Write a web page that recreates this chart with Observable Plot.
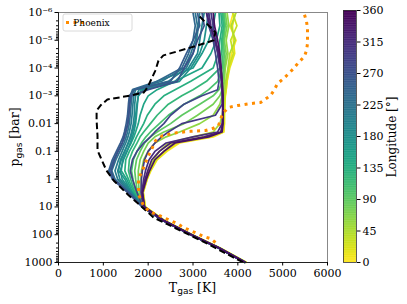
<!DOCTYPE html>
<html><head><meta charset="utf-8">
<script src="https://cdn.jsdelivr.net/npm/d3@7"></script>
<script src="https://cdn.jsdelivr.net/npm/@observablehq/plot@0.6"></script>
<style>
body{margin:0;background:#fff;}
#wrap{position:relative;width:407px;height:304px;}
#wrap svg{position:absolute;top:0;}
</style></head><body><div id="wrap"></div>
<script>
// pressure levels (bar) shared by the colored profiles
const pressureLevels = [1e-6, 3e-6, 1e-5, 3e-5, 1e-4, 3e-4, 6e-4, 1e-3, 2e-3, 5e-3, 0.01, 0.02, 0.03, 0.05, 0.1, 0.2, 0.5, 1, 3, 10, 30, 100, 300, 1000];
const longitudes = [0, 15, 30, 45, 60, 75, 90, 105, 120, 135, 150, 165, 180, 195, 210, 225, 240, 255, 270, 285, 300, 315, 330, 345];
// gas temperature (K) at each pressure level, one array per longitude
const t000 = [3900, 3820, 3960, 3860, 3800, 3760, 3740, 3720, 3710, 3700, 3700, 3690, 3450, 2700, 2420, 2200, 2060, 1980, 1890, 1940, 2360, 2990, 3610, 4200];
const t015 = [3950, 3880, 3900, 3930, 3820, 3760, 3740, 3720, 3710, 3700, 3700, 3680, 3400, 2650, 2400, 2190, 2050, 1975, 1890, 1935, 2355, 2985, 3605, 4195];
const t030 = [3880, 3980, 3840, 3900, 3790, 3750, 3730, 3710, 3700, 3690, 3680, 3620, 3250, 2550, 2350, 2170, 2040, 1970, 1880, 1930, 2350, 2980, 3600, 4190];
const t045 = [3960, 3850, 3940, 3820, 3780, 3730, 3710, 3690, 3680, 3650, 3600, 3450, 3000, 2450, 2250, 2120, 2000, 1950, 1870, 1925, 2345, 2975, 3595, 4185];
const t060 = [3760, 3800, 3740, 3780, 3720, 3700, 3680, 3650, 3600, 3450, 3150, 2700, 2400, 2150, 2000, 1900, 1850, 1840, 1850, 1920, 2340, 2970, 3590, 4180];
const t075 = [3720, 3760, 3700, 3740, 3700, 3680, 3650, 3600, 3450, 3100, 2800, 2350, 2150, 2000, 1900, 1820, 1780, 1780, 1800, 1915, 2335, 2965, 3585, 4175];
const t090 = [3700, 3720, 3680, 3700, 3680, 3650, 3580, 3450, 3150, 2750, 2500, 2200, 2050, 1920, 1820, 1740, 1700, 1720, 1760, 1910, 2330, 2960, 3580, 4170];
const t105 = [3680, 3700, 3660, 3670, 3650, 3550, 3350, 3150, 2800, 2450, 2250, 2050, 1950, 1850, 1750, 1670, 1630, 1660, 1720, 1900, 2330, 2960, 3580, 4170];
const t120 = [3650, 3680, 3640, 3630, 3600, 3300, 3000, 2750, 2450, 2200, 2050, 1900, 1820, 1750, 1650, 1580, 1560, 1610, 1700, 1895, 2330, 2960, 3580, 4170];
const t135 = [3620, 3650, 3600, 3560, 3450, 2950, 2600, 2350, 2150, 1980, 1900, 1800, 1740, 1680, 1580, 1500, 1480, 1560, 1680, 1890, 2325, 2955, 3575, 4165];
const t150 = [3580, 3600, 3520, 3400, 3200, 2600, 2200, 2000, 1900, 1820, 1780, 1720, 1680, 1620, 1520, 1430, 1400, 1520, 1650, 1885, 2325, 2955, 3575, 4165];
const t165 = [3500, 3450, 3350, 3200, 3000, 2200, 1850, 1780, 1750, 1720, 1700, 1650, 1620, 1560, 1470, 1380, 1340, 1480, 1620, 1880, 2325, 2955, 3575, 4165];
const t180 = [3350, 3300, 3250, 3150, 2950, 2700, 1900, 1780, 1760, 1740, 1720, 1680, 1650, 1600, 1530, 1450, 1380, 1420, 1640, 1880, 2325, 2955, 3575, 4165];
const t195 = [3250, 3200, 3150, 3100, 2900, 2600, 1800, 1720, 1700, 1690, 1670, 1630, 1600, 1550, 1480, 1400, 1320, 1370, 1620, 1878, 2322, 2952, 3572, 4162];
const t210 = [3150, 3120, 3080, 3000, 2850, 2450, 1720, 1680, 1660, 1640, 1620, 1580, 1550, 1500, 1420, 1340, 1260, 1320, 1600, 1876, 2320, 2950, 3570, 4160];
const t225 = [3050, 3100, 3050, 2950, 2800, 2300, 1680, 1640, 1620, 1600, 1580, 1540, 1510, 1460, 1370, 1280, 1190, 1260, 1570, 1874, 2320, 2950, 3570, 4160];
const t240 = [3000, 3050, 3000, 2900, 2750, 2200, 1650, 1600, 1580, 1560, 1540, 1500, 1470, 1420, 1320, 1230, 1140, 1220, 1550, 1872, 2318, 2948, 3568, 4158];
const t255 = [3100, 3150, 3000, 2850, 2700, 2500, 1700, 1580, 1560, 1540, 1510, 1470, 1440, 1380, 1290, 1200, 1120, 1200, 1540, 1870, 2318, 2948, 3568, 4158];
const t270 = [3200, 3250, 3100, 3000, 2800, 2650, 2000, 1620, 1590, 1570, 1550, 1500, 1470, 1420, 1330, 1250, 1170, 1230, 1560, 1872, 2320, 2950, 3570, 4160];
const t285 = [3300, 3350, 3450, 3500, 3550, 3580, 3550, 3200, 2800, 2500, 2350, 2150, 2050, 1900, 1750, 1650, 1600, 1650, 1750, 1878, 2325, 2955, 3575, 4165];
const t300 = [3400, 3450, 3500, 3550, 3600, 3630, 3640, 3650, 3650, 3500, 2750, 2450, 2300, 2150, 2000, 1920, 1870, 1850, 1840, 1890, 2330, 2960, 3580, 4170];
const t315 = [3350, 3400, 3480, 3560, 3610, 3640, 3650, 3660, 3660, 3660, 3650, 3550, 3000, 2400, 2150, 2020, 1940, 1900, 1860, 1910, 2335, 2965, 3585, 4170];
const t330 = [3300, 3380, 3500, 3580, 3620, 3650, 3660, 3665, 3670, 3670, 3660, 3620, 3250, 2500, 2250, 2080, 1990, 1930, 1870, 1915, 2335, 2965, 3585, 4172];
const t345 = [3450, 3480, 3550, 3600, 3630, 3650, 3660, 3670, 3670, 3670, 3670, 3650, 3350, 2600, 2350, 2150, 2030, 1960, 1875, 1918, 2338, 2968, 3588, 4175];
const profileTemps = [t000, t015, t030, t045, t060, t075, t090, t105, t120, t135, t150, t165, t180, t195, t210, t225, t240, t255, t270, t285, t300, t315, t330, t345];

// black dashed reference profile
const refP = [1.4e-6, 5.2e-6, 1.0e-5, 1.55e-5, 3.5e-5, 5.4e-5, 1.23e-4, 5.0e-4, 7.6e-4, 9.8e-4, 1.35e-3, 2.2e-3, 3.4e-3, 7.8e-3, 0.027, 0.093, 0.166, 0.49, 1.12, 2.24, 3.9, 7.9, 24, 71, 209, 660, 1000];
const refT = [3150, 3500, 3460, 3100, 2340, 2230, 2160, 1985, 1900, 1610, 1090, 940, 850, 850, 870, 870, 940, 1070, 1230, 1420, 1570, 1790, 2120, 2720, 3320, 3900, 4130];

// Phoenix profile (orange dotted)
const phoenixP = [1.2e-6, 2.1e-6, 3.8e-6, 7.2e-6, 1.32e-5, 2.3e-5, 3.8e-5, 6.3e-5, 1.05e-4, 1.6e-4, 2.4e-4, 3.6e-4, 5.9e-4, 9.8e-4, 1.74e-3, 1.9e-3, 2.24e-3, 2.6e-3, 4.4e-3, 0.0117, 0.0151, 0.0178, 0.019, 0.021, 0.027, 0.041, 0.072, 0.141, 0.25, 0.49, 0.95, 1.86, 3.55, 8.9, 15.8, 18.6, 24, 31, 40, 55, 71, 91, 115, 138, 190];
const phoenixT = [5487, 5532, 5554, 5554, 5554, 5532, 5487, 5354, 5242, 5130, 5019, 4885, 4818, 4729, 4506, 4283, 3993, 3792, 3658, 3569, 3435, 3279, 2944, 2654, 2320, 2164, 2097, 2008, 1941, 1874, 1785, 1785, 1785, 1896, 2052, 2208, 2342, 2498, 2654, 2788, 2944, 3101, 3234, 3391, 3502];

const xTicks = [0, 1000, 2000, 3000, 4000, 5000, 6000];
const yTicks = [1e-6, 1e-5, 1e-4, 1e-3, 0.01, 0.1, 1, 10, 100, 1000];
const yTickLabels = ["10⁻⁶", "10⁻⁵", "10⁻⁴", "10⁻³", "0.01", "0.1", "1", "10", "100", "1000"];
const yMinorTicks = d3.range(-6, 3).flatMap(e => d3.range(2, 10).map(k => k * 10 ** e));
const cbarTicks = [0, 45, 90, 135, 180, 225, 270, 315, 360];

const rows = longitudes.flatMap((lon, i) => pressureLevels.map((p, j) => ({lon, p, T: profileTemps[i][j]})));
const ref = refP.map((p, i) => ({p, T: refT[i]}));
const phoenix = phoenixP.map((p, i) => ({p, T: phoenixT[i]}));

const serif = "DejaVu Serif";
const main = Plot.plot({
  width: 407, height: 304,
  marginLeft: 58, marginRight: 80, marginTop: 12, marginBottom: 42,
  style: {fontFamily: serif, fontSize: "11px", background: "transparent", color: "#000"},
  x: {domain: [0, 6000]},
  y: {type: "log", domain: [1e-6, 1000], reverse: true},
  color: {type: "linear", domain: [0, 360], scheme: "viridis", reverse: true},
  marks: [
    Plot.line(rows, {x: "T", y: "p", z: "lon", stroke: "lon", strokeWidth: 1.7, strokeLinecap: "butt"}),
    Plot.line(ref, {x: "T", y: "p", stroke: "black", strokeWidth: 2, strokeDasharray: "6.5,3.5", strokeLinecap: "butt"}),
    Plot.line(phoenix, {x: "T", y: "p", stroke: "#ff8c00", strokeWidth: 3, strokeDasharray: "3,4.5", strokeLinecap: "butt"}),
    Plot.ruleY([1e-6], {stroke: "#888"}),
    Plot.ruleX([6000], {stroke: "#888"}),
    Plot.ruleX([0], {stroke: "#222"}),
    Plot.ruleY([1000], {stroke: "#222"}),
    Plot.axisX({ticks: xTicks, tickFormat: d => String(d), tickSize: 3.5, tickPadding: 3, label: null}),
    Plot.axisY({ticks: yTicks, tickFormat: d => yTickLabels[yTicks.indexOf(d)], tickSize: 3.5, tickPadding: 2.5, label: null}),
    Plot.axisY({ticks: yMinorTicks, tickSize: 2, text: null, label: null})
  ]
});
main.style.left = "0px";
document.getElementById("wrap").appendChild(main);

const svg = d3.select(main);
// x label
const xl = svg.append("text").attr("x", 192.5).attr("y", 291.5).attr("text-anchor", "middle")
  .attr("font-family", serif).attr("font-size", 12.5).attr("fill", "#000");
xl.append("tspan").text("T");
xl.append("tspan").attr("font-family", "DejaVu Sans").attr("font-size", 9).attr("dy", 2.5).text("gas");
xl.append("tspan").attr("dy", -2.5).text(" [K]");
// y label
const yl = svg.append("text").attr("transform", "translate(19,137) rotate(-90)").attr("text-anchor", "middle")
  .attr("font-family", serif).attr("font-size", 12.5).attr("fill", "#000");
yl.append("tspan").text("p");
yl.append("tspan").attr("font-family", "DejaVu Sans").attr("font-size", 9).attr("dy", 2.5).text("gas");
yl.append("tspan").attr("dy", -2.5).text(" [bar]");
// legend
const lg = svg.append("g");
lg.append("rect").attr("x", 63).attr("y", 14).attr("width", 69).attr("height", 17).attr("rx", 2)
  .attr("fill", "white").attr("fill-opacity", 0.85).attr("stroke", "#d0d0d0").attr("stroke-width", 0.8);
lg.append("line").attr("x1", 66).attr("x2", 86).attr("y1", 22.5).attr("y2", 22.5)
  .attr("stroke", "#ff8c00").attr("stroke-width", 3).attr("stroke-dasharray", "3,4.5");
lg.append("text").attr("x", 91.5).attr("y", 26).attr("font-family", serif).attr("font-size", 9).attr("fill", "#000").text("Phoenix");

// colorbar
const cbarSteps = d3.range(0, 360, 1);
const cbar = Plot.plot({
  width: 65, height: 304,
  marginLeft: 1, marginRight: 51, marginTop: 10, marginBottom: 42,
  style: {fontFamily: serif, fontSize: "11px", background: "transparent", color: "#000"},
  x: {domain: [0, 1], axis: null},
  y: {domain: [0, 360]},
  color: {type: "linear", domain: [0, 360], scheme: "viridis", reverse: true},
  marks: [
    Plot.rect(cbarSteps, {x1: 0, x2: 1, y1: d => d, y2: d => Math.min(360, d + 1.6), fill: d => d + 0.5}),
    Plot.frame({stroke: "#333", strokeWidth: 0.8}),
    Plot.axisY({anchor: "right", ticks: cbarTicks, tickSize: 3.5, tickPadding: 2.5, label: null})
  ]
});
cbar.style.left = "342px";
document.getElementById("wrap").appendChild(cbar);
d3.select(cbar).append("text").attr("transform", "translate(54,137) rotate(-90)").attr("text-anchor", "middle")
  .attr("font-family", serif).attr("font-size", 12).attr("fill", "#000").text("Longitude [°]");
</script></body></html>
